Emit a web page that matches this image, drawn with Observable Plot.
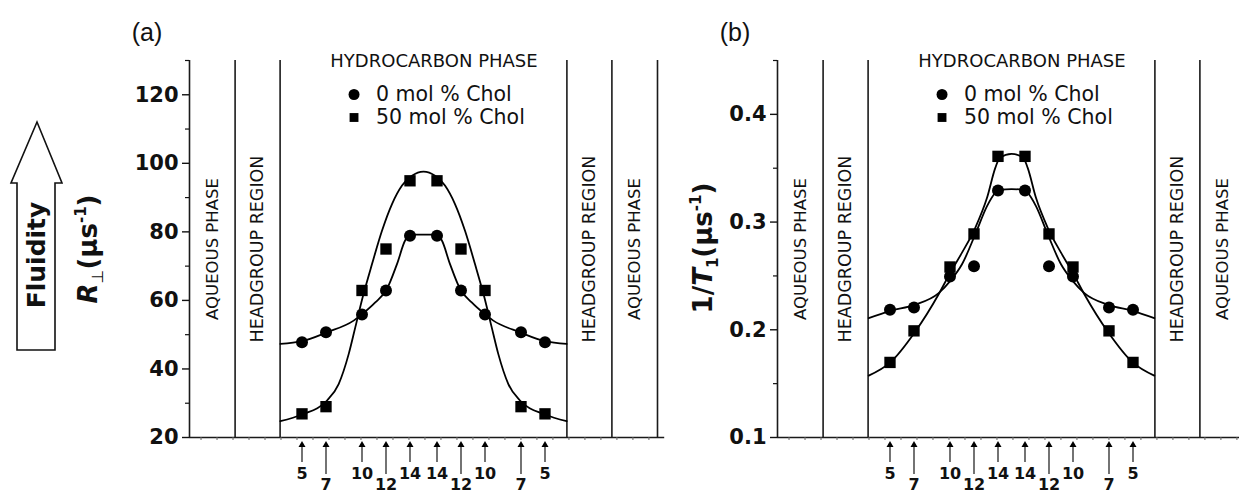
<!DOCTYPE html>
<html><head><meta charset="utf-8">
<script src="https://cdn.jsdelivr.net/npm/d3@7"></script>
<script src="https://cdn.jsdelivr.net/npm/@observablehq/plot@0.6"></script>
<style>
html,body{margin:0;padding:0;background:#fff;}
body{width:1239px;height:492px;overflow:hidden;position:relative;font-family:"DejaVu Sans",sans-serif;}
.panel{position:absolute;top:0;}
#fluid{position:absolute;left:0;top:0;}
</style></head><body>
<div id="a" class="panel" style="left:0px"></div>
<div id="b" class="panel" style="left:588px"></div>
<svg id="fluid" width="80" height="492"></svg>
<script>
// ---- data ----
const carbonLabels = ["5","7","10","12","14","14","12","10","7","5"];
// depth along bilayer normal (carbon units, 0 = bilayer centre)
const depth = [-10.125,-8.125,-5.125,-3.125,-1.125,1.125,3.125,5.125,8.125,10.125];

// (a) R_perp (us^-1)
const rPerp0  = [47.8,50.7,55.9,62.9,78.9,78.9,62.9,55.9,50.7,47.8];
const rPerp50 = [26.9,29.0,62.9,75.0,94.9,94.9,75.0,62.9,29.0,26.9];
// (b) 1/T1 (us^-1)
const invT1_0  = [0.2185,0.2207,0.2494,0.259,0.3293,0.3293,0.259,0.2494,0.2207,0.2185];
const invT1_50 = [0.1697,0.199,0.2583,0.289,0.361,0.361,0.289,0.2583,0.199,0.1697];

// fitted curves
const fitDepthA0 = [-11.93,-10.125,-8.04,-5.82,-5.07,-4.02,-3.04,-2.21,-1.51,-0.96,0,0.96,1.51,2.21,3.04,4.02,5.07,5.82,8.04,10.125,11.93];
const fitRPerp0  = [47.3,48.1,50.7,54.1,56.1,59.4,63.4,70.6,77.6,79.2,79.2,79.2,77.6,70.6,63.4,59.4,56.1,54.1,50.7,48.1,47.3];
const fitDepthA50 = [-11.93,-10.125,-8.04,-7.07,-6.23,-5.68,-5.07,-4.29,-3.46,-2.625,-1.79,-0.96,0,0.96,1.79,2.625,3.46,4.29,5.07,5.68,6.23,7.07,8.04,10.125,11.93];
const fitRPerp50  = [24.75,26.7,30.8,35.6,44.4,52.2,60.9,70.6,80.3,88.1,93.5,96.4,97.6,96.4,93.5,88.1,80.3,70.6,60.9,52.2,44.4,35.6,30.8,26.7,24.75];
const fitDepthB = [-11.9,-10.1,-8.07,-6.07,-5.1,-4.125,-3.02,-2.04,-1.35,-0.93,0,0.93,1.35,2.04,3.02,4.125,5.1,6.07,8.07,10.1,11.9];
const fitInvT1_0  = [0.2108,0.2176,0.2231,0.234,0.2454,0.2608,0.2886,0.3148,0.3271,0.330,0.3306,0.330,0.3271,0.3148,0.2886,0.2608,0.2454,0.234,0.2231,0.2176,0.2108];
const fitDepthB50 = [-11.9,-10.1,-8.07,-6.07,-5.1,-4.125,-3.02,-2.04,-1.35,-0.96,0,0.96,1.35,2.04,3.02,4.125,5.1,6.07,8.07,10.1,11.9];
const fitInvT1_50 = [0.1574,0.1697,0.1975,0.233,0.2531,0.2716,0.2947,0.3225,0.3503,0.360,0.3634,0.360,0.3503,0.3225,0.2947,0.2716,0.2531,0.233,0.1975,0.1697,0.1574];

// region boundaries (carbon units from centre) and names
const boundaries = [-19.5,-15.7,-11.95,11.95,15.7,19.5];
const regionNames = ["AQUEOUS PHASE","HEADGROUP REGION","HEADGROUP REGION","AQUEOUS PHASE"];
const regionCentres = [-17.6,-13.83,13.83,17.6];
const seriesNames = ["0 mol % Chol","50 mol % Chol"];

const yTicksA = [20,40,60,80,100,120], yMinorA = [30,50,70,90,110,130];
const yTicksB = [0.1,0.2,0.3,0.4], yMinorB = [0.15,0.25,0.35,0.45];

const lowLabels = new Set(["7","12"]);
const FONT = "DejaVu Sans, Verdana, sans-serif";

function panel(cfg){
  const [y0,y1] = cfg.yDomain;
  const v = px => y0 + (437 - px) * (y1 - y0) / 377; // pixel -> value helper for annotations
  const pts = depth.map((d,i)=>({depth:d, a:cfg.s0[i], b:cfg.s50[i], label:carbonLabels[i], low: lowLabels.has(carbonLabels[i])}));
  const fit0 = cfg.f0x.map((d,i)=>({depth:d, v:cfg.f0[i]}));
  const fit50 = cfg.f50x.map((d,i)=>({depth:d, v:cfg.f50[i]}));
  const svg = Plot.plot({
    width: cfg.width, height: 492,
    marginLeft: 189, marginTop: 60, marginBottom: 55, marginRight: cfg.width - 657,
    x: {domain: [-19.5, 19.5]},
    y: {domain: cfg.yDomain},
    style: {background: "transparent", overflow: "visible", fontFamily: FONT, color: "#111"},
    marks: [
      Plot.ruleX(boundaries, {y1: y0, y2: y1, stroke: "#1a1a1a", strokeWidth: 1.6}),
      Plot.ruleY([y0], {x1: -19.5, x2: 20.1, stroke: "#1a1a1a", strokeWidth: 1.6}),
      Plot.axisY({ticks: cfg.major, tickSize: 7, tickPadding: 4, fontSize: 21, fontWeight: "bold", tickFormat: cfg.fmt, label: null, strokeWidth: 1.4}),
      Plot.axisY({ticks: cfg.minor, tickSize: 4, tickFormat: () => "", label: null, strokeWidth: 1.2}),
      Plot.axisX({ticks: d3.range(-18.54, 19.5, 1.333), tickSize: 3, tickFormat: () => "", label: null, stroke: "#666"}),
      Plot.text(regionNames, {x: (d,i)=>regionCentres[i], y: (y0+y1)/2, text: d=>d, rotate: -90, fontSize: (d)=> d.startsWith("AQ") ? 16.5 : 17.5, fill: "#111"}),
      Plot.text(["HYDROCARBON PHASE"], {x: 0.875, y: v(61), text: d=>d, fontSize: 18, fill: "#111"}),
      Plot.dot([seriesNames[0]], {x: -5.79, y: v(94), r: 5.5, symbol: "circle", fill: "black"}),
      Plot.dot([seriesNames[1]], {x: -5.79, y: v(117), r: 5, symbol: "square", fill: "black"}),
      Plot.text(seriesNames, {x: -3.96, y: (d,i)=> v(i ? 117 : 94), text: d=>d, textAnchor: "start", fontSize: 20.5, fill: "#111"}),
      Plot.line(fit0, {x: "depth", y: "v", curve: "monotone-x", stroke: "black", strokeWidth: 1.8}),
      Plot.line(fit50, {x: "depth", y: "v", curve: "monotone-x", stroke: "black", strokeWidth: 1.8}),
      Plot.dot(pts, {x: "depth", y: "a", r: 6, symbol: "circle", fill: "black"}),
      Plot.dot(pts, {x: "depth", y: "b", r: 6.4, symbol: "square", fill: "black"}),
      Plot.ruleX(pts, {x: "depth", y1: d => v(d.low ? 474 : 462), y2: v(446), stroke: "black", strokeWidth: 1.1}),
      Plot.dot(pts, {x: "depth", y: v(444.5), symbol: "triangle", r: 2.6, fill: "black"}),
      Plot.text(pts, {x: "depth", y: d => v(d.low ? 484 : 473), text: "label", fontSize: 16, fontWeight: "bold", fill: "#111"})
    ]
  });
  const s = d3.select(svg);
  // panel letter
  s.append("text").attr("x", 147).attr("y", 41).attr("text-anchor","middle")
    .attr("font-family","Liberation Sans, Arial, sans-serif").attr("font-size",25).attr("fill","#111").text(cfg.letter);
  // y axis label with sub/superscripts
  const t = s.append("text").attr("transform", `translate(${cfg.labelX},${cfg.labelY}) rotate(-90)`)
    .attr("text-anchor","middle").attr("font-family",FONT).attr("font-size",26).attr("font-weight","bold").attr("fill","#111");
  cfg.label.forEach(p=>{
    const sp = t.append("tspan").text(p.t);
    if (p.italic) sp.attr("font-style","italic");
    if (p.size) sp.attr("font-size", p.size);
    if (p.dy) sp.attr("dy", p.dy);
    if (p.weight) sp.attr("font-weight", p.weight);
  });
  document.getElementById(cfg.id).appendChild(svg);
}

panel({id:"a", letter:"(a)", width:670, yDomain:[20,130], major:yTicksA, minor:yMinorA, fmt: d=>String(d),
  s0: rPerp0, s50: rPerp50, f0x: fitDepthA0, f0: fitRPerp0, f50x: fitDepthA50, f50: fitRPerp50,
  labelX: 97, labelY: 249,
  label: [{t:"R", italic:true}, {t:"\u22A5", size:16, dy:6, weight:"normal"}, {t:"(\u03BCs", dy:-6}, {t:"-1", size:15, dy:-11}, {t:")", dy:11}]});

panel({id:"b", letter:"(b)", width:651, yDomain:[0.1,0.45], major:yTicksB, minor:yMinorB, fmt: d=>d.toFixed(1),
  s0: invT1_0, s50: invT1_50, f0x: fitDepthB, f0: fitInvT1_0, f50x: fitDepthB50, f50: fitInvT1_50,
  labelX: 124, labelY: 248,
  label: [{t:"1/"}, {t:"T", italic:true}, {t:"1", size:15, dy:6}, {t:"(\u03BCs", dy:-6}, {t:"-1", size:15, dy:-11}, {t:")", dy:11}]});

// fluidity arrow annotation
const f = d3.select("#fluid");
f.append("polygon").attr("points","17,350 17,183 11,183 37,122 62,183 55,183 55,350")
  .attr("fill","white").attr("stroke","#111").attr("stroke-width",1.6).attr("stroke-linejoin","miter");
f.append("text").attr("transform","translate(45,255) rotate(-90)").attr("text-anchor","middle")
  .attr("font-family",FONT).attr("font-weight","bold").attr("font-size",25).attr("fill","#111").text("Fluidity");
</script>
</body></html>
